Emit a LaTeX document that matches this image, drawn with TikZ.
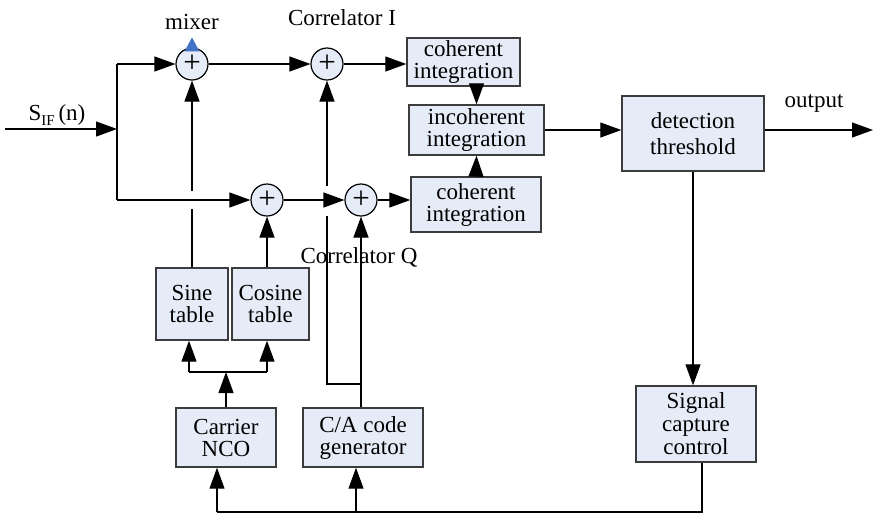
\documentclass[tikz,border=0pt]{standalone}
\usepackage{fontspec}
\setmainfont{Liberation Serif}
\usetikzlibrary{arrows.meta,calc}
\definecolor{boxfill}{RGB}{230,236,247}
\definecolor{boxline}{RGB}{60,60,60}
\definecolor{tipblue}{RGB}{68,114,196}
\begin{document}
\begin{tikzpicture}[x=1pt,y=-1pt,
  line width=1.2pt,
  font=\fontsize{23}{22}\selectfont,
  block/.style={draw=boxline, fill=boxfill, line width=1.4pt, align=center, inner sep=0pt},
  summer/.style={circle, draw=black, fill=boxfill, line width=1.2pt, minimum size=32pt,
    inner sep=0pt, font=\fontsize{31}{31}\selectfont},
  arr/.style={-{Triangle[length=21pt,width=15pt]}},
  lbl/.style={inner sep=0pt}
]
\useasboundingbox (0,0) rectangle (874,515);

% mixers and correlators
\node[summer] (mix)   at (192,64)  {+};
\node[summer] (corrI) at (327,64)  {+};
\node[summer] (c2)    at (267,200) {+};
\node[summer] (corrQ) at (361,200) {+};
\fill[tipblue] ($(mix.north)+(-7.5,4)$) -- ($(mix.north)+(0,-10)$) -- ($(mix.north)+(7.5,4)$) -- cycle;

% labels
\node[lbl] (lmix) at (192,22)  {mixer};
\node[lbl] (lcI)  at (342,18)  {Correlator I};
\node[lbl] (lcQ)  at (359,257) {Correlator Q};
\node[lbl] (lout) at (814,103) {output};
\node[lbl] (lsif) at (57,115)  {S\raisebox{-5pt}{\fontsize{15}{15}\selectfont IF}\,(n)};

% processing blocks
\node[block, minimum width=113pt, minimum height=48pt] (coh1)  at (463.5,62)  {coherent\\integration};
\node[block, minimum width=135pt, minimum height=50pt] (incoh) at (476.5,130)  {incoherent\\integration};
\node[block, minimum width=130pt, minimum height=55pt] (coh2)  at (476,204.5)  {coherent\\integration};
\node[block, minimum width=142pt, minimum height=75pt, font=\fontsize{23}{26}\selectfont] (det) at (693,133.5) {detection\\threshold};
\node[block, minimum width=120pt, minimum height=76pt, font=\fontsize{23}{23}\selectfont] (sig) at (696,424) {Signal\\capture\\control};
\node[block, minimum width=72pt,  minimum height=72pt] (sine)   at (192,304)   {Sine\\table};
\node[block, minimum width=77pt,  minimum height=72pt] (cosine) at (270.5,304) {Cosine\\table};
\node[block, minimum width=100pt, minimum height=59pt] (nco)    at (226,437.5) {Carrier\\NCO};
\node[block, minimum width=120pt, minimum height=59pt] (ca)     at (363,437.5) {C/A code\\generator};

% junction points
\coordinate (inp)   at (5,129);
\coordinate (split) at (117,129);
\coordinate (tl)    at (117,64);
\coordinate (bl)    at (117,200);
\coordinate (outp)  at (873,130);
\coordinate (fbR)   at (702,512);
\coordinate (fbL)   at (217,512);
\coordinate (fbM)   at (356,512);
\coordinate (gs1)   at (192,209);
\coordinate (gs2)   at (192,191);
\coordinate (br)    at (361,384);
\coordinate (qI)    at (327,384);
\coordinate (gI1)   at (327,216);
\coordinate (gI2)   at (327,186);
\coordinate (nj)    at (226,372);
\coordinate (tjL)   at (189,372);
\coordinate (tjR)   at (267,372);

% input and I/Q split
\draw[arr] (inp) -- (split);
\draw (tl) -- (bl);
\draw[arr] (tl) -- (mix);
\draw[arr] (bl) -- (c2);
\draw[arr] (mix) -- (corrI);
\draw[arr] (corrI) -- (corrI -| coh1.west);
\draw[arr] (c2) -- (corrQ);
\draw[arr] (corrQ) -- (corrQ -| coh2.west);

% integration and detection
\draw[arr] (coh1.south -| incoh.north) -- (incoh.north);
\draw[arr] (coh2.north) -- (incoh.south);
\draw[arr] (incoh) -- (incoh -| det.west);
\draw[arr] (det.east |- outp) -- (outp);
\draw[arr] (det.south) -- (det.south |- sig.north);

% feedback to NCO and code generator
\draw (sig.south -| fbR) -- (fbR) -- (fbL);
\draw[arr] (fbL) -- (fbL |- nco.south);
\draw[arr] (fbM) -- (fbM |- ca.south);

% carrier tables to mixers
\draw (sine.north) -- (gs1);
\draw[arr] (gs2) -- (mix.south);
\draw[arr] (c2 |- cosine.north) -- (c2.south);

% code to correlators
\draw[arr] (corrQ |- ca.north) -- (corrQ.south);
\draw (br) -- (qI) -- (gI1);
\draw[arr] (gI2) -- (corrI.south);

% NCO to sine and cosine tables
\draw[arr] (nco.north) -- (nj);
\draw (tjL) -- (tjR);
\draw[arr] (tjL) -- (tjL |- sine.south);
\draw[arr] (tjR) -- (tjR |- cosine.south);
\end{tikzpicture}
\end{document}
